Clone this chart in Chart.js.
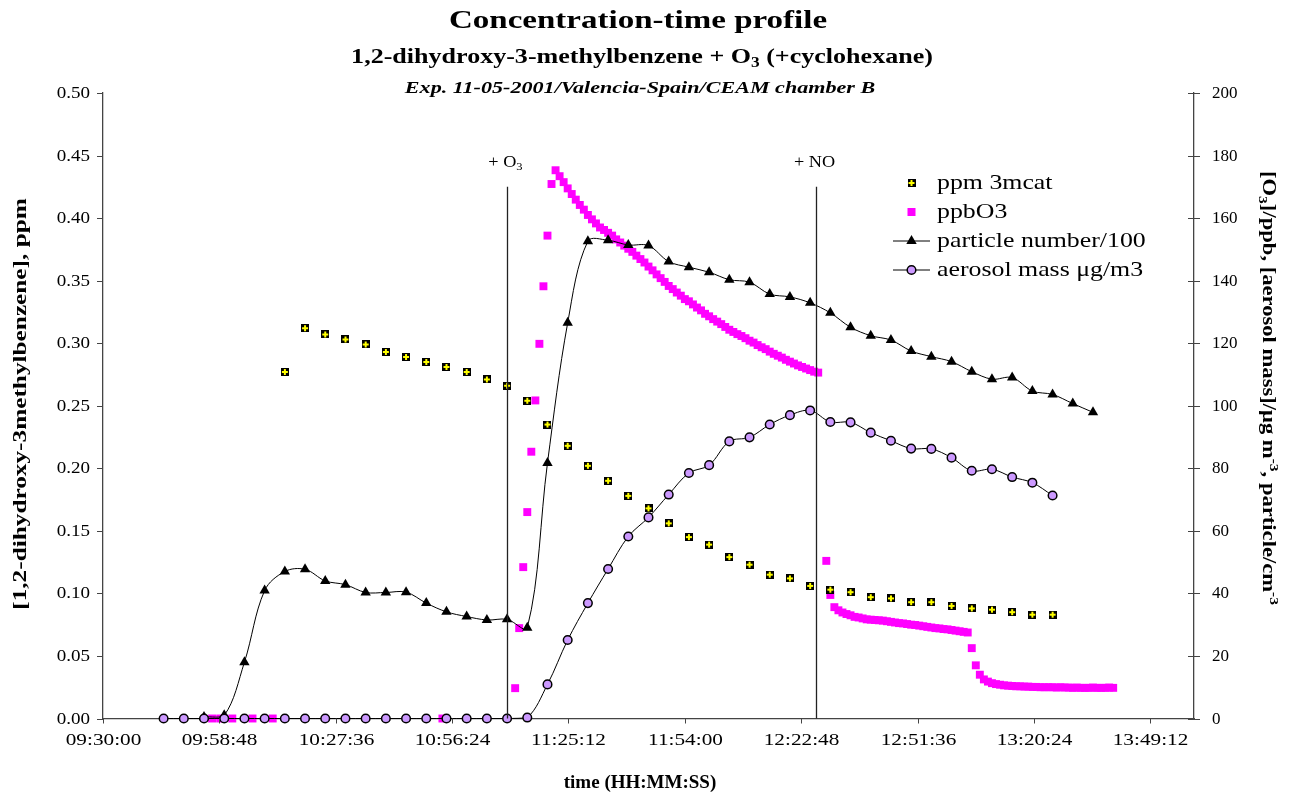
<!DOCTYPE html>
<html>
<head>
<meta charset="utf-8">
<title>Concentration-time profile</title>
<script src="https://cdn.jsdelivr.net/npm/chart.js@4.4.1/dist/chart.umd.min.js"></script>
<style>
  html, body { margin: 0; padding: 0; background: #fff; }
  #wrap { width: 1291px; height: 793px; position: relative; }
</style>
</head>
<body>
<div id="wrap"><canvas id="profileChart"></canvas></div>
<script>
// time axis: Excel style, 0.02 day steps from 09:30:00
const xTickLabels = ["09:30:00", "09:58:48", "10:27:36", "10:56:24", "11:25:12",
  "11:54:00", "12:22:48", "12:51:36", "13:20:24", "13:49:12"];
const xRange = ["09:30:00", "14:00:00"];

// ppm 3mcat (left axis)
const mcatTimes = ["10:15", "10:20", "10:25", "10:30", "10:35", "10:40", "10:45", "10:50", "10:55", "11:00",
  "11:05", "11:10", "11:15", "11:20", "11:25", "11:30", "11:35", "11:40", "11:45", "11:50",
  "11:55", "12:00", "12:05", "12:10", "12:15", "12:20", "12:25", "12:30", "12:35", "12:40",
  "12:45", "12:50", "12:55", "13:00", "13:05", "13:10", "13:15", "13:20", "13:25"];
const mcatPpm = [0.277, 0.312, 0.307, 0.303, 0.299, 0.293, 0.289, 0.285, 0.281, 0.277,
  0.271, 0.266, 0.254, 0.235, 0.218, 0.202, 0.190, 0.178, 0.168, 0.156,
  0.145, 0.139, 0.129, 0.123, 0.115, 0.112, 0.106, 0.103, 0.101, 0.097,
  0.096, 0.093, 0.093, 0.090, 0.088, 0.087, 0.085, 0.083, 0.083];

// particle number/100 (right axis)
const particleTimes = ["09:55", "10:00", "10:05", "10:10", "10:15", "10:20", "10:25", "10:30", "10:35", "10:40",
  "10:45", "10:50", "10:55", "11:00", "11:05", "11:10", "11:15", "11:20", "11:25", "11:30",
  "11:35", "11:40", "11:45", "11:50", "11:55", "12:00", "12:05", "12:10", "12:15", "12:20",
  "12:25", "12:30", "12:35", "12:40", "12:45", "12:50", "12:55", "13:00", "13:05", "13:10",
  "13:15", "13:20", "13:25", "13:30", "13:35"];
const particleNum = [0.5, 1.0, 18.0, 40.9, 47.0, 47.7, 44.0, 42.8, 40.3, 40.3,
  40.4, 36.9, 34.1, 32.6, 31.5, 31.7, 29.0, 81.7, 126.5, 152.6,
  152.9, 151.4, 151.2, 146.1, 144.3, 142.7, 140.3, 139.5, 135.7, 134.8,
  132.9, 129.7, 125.1, 122.4, 121.0, 117.5, 115.7, 114.1, 110.9, 108.5,
  109.0, 104.7, 103.6, 100.7, 97.9];

// aerosol mass ug/m3 (right axis)
const aerosolTimes = ["09:45", "09:50", "09:55", "10:00", "10:05", "10:10", "10:15", "10:20", "10:25", "10:30",
  "10:35", "10:40", "10:45", "10:50", "10:55", "11:00", "11:05", "11:10", "11:15", "11:20",
  "11:25", "11:30", "11:35", "11:40", "11:45", "11:50", "11:55", "12:00", "12:05", "12:10",
  "12:15", "12:20", "12:25", "12:30", "12:35", "12:40", "12:45", "12:50", "12:55", "13:00",
  "13:05", "13:10", "13:15", "13:20", "13:25"];
const aerosolMass = [0, 0, 0, 0, 0, 0, 0, 0, 0, 0,
  0, 0, 0, 0, 0, 0, 0, 0, 0.3, 10.9,
  25.1, 36.9, 47.8, 58.2, 64.3, 71.6, 78.5, 81.0, 88.6, 89.9,
  94.0, 97.0, 98.5, 94.8, 94.7, 91.4, 88.8, 86.3, 86.2, 83.4,
  79.2, 79.7, 77.2, 75.4, 71.3];

// ppbO3 (right axis)
const o3Times = ["09:57", "09:59", "10:02", "10:07", "10:12", "10:54",
  "11:12", "11:13", "11:14", "11:15", "11:16", "11:17", "11:18", "11:19", "11:20", "11:21",
  "11:22", "11:23", "11:24", "11:25", "11:26", "11:27", "11:28", "11:29", "11:30", "11:31",
  "11:32", "11:33", "11:34", "11:35", "11:36", "11:37", "11:38", "11:39", "11:40", "11:41",
  "11:42", "11:43", "11:44", "11:45", "11:46", "11:47", "11:48", "11:49", "11:50", "11:51",
  "11:52", "11:53", "11:54", "11:55", "11:56", "11:57", "11:58", "11:59", "12:00", "12:01",
  "12:02", "12:03", "12:04", "12:05", "12:06", "12:07", "12:08", "12:09", "12:10", "12:11",
  "12:12", "12:13", "12:14", "12:15", "12:16", "12:17", "12:18", "12:19", "12:20", "12:21",
  "12:22", "12:23", "12:24", "12:25", "12:26", "12:27",
  "12:29", "12:30", "12:31", "12:32", "12:33", "12:34", "12:35", "12:36", "12:37", "12:38",
  "12:39", "12:40", "12:41", "12:42", "12:43", "12:44", "12:45", "12:46", "12:47", "12:48",
  "12:49", "12:50", "12:51", "12:52", "12:53", "12:54", "12:55", "12:56", "12:57", "12:58",
  "12:59", "13:00", "13:01", "13:02", "13:03", "13:04", "13:05", "13:06", "13:07", "13:08",
  "13:09", "13:10", "13:11", "13:12", "13:13", "13:14", "13:15", "13:16", "13:17", "13:18",
  "13:19", "13:20", "13:21", "13:22", "13:23", "13:24", "13:25", "13:26", "13:27", "13:28",
  "13:29", "13:30", "13:31", "13:32", "13:33", "13:34", "13:35", "13:36", "13:37", "13:38",
  "13:39", "13:40"];
const o3Ppb = [0, 0, 0, 0, 0, 0,
  9.7, 28.9, 48.4, 66.0, 85.3, 101.7, 119.8, 138.2, 154.4, 170.9,
  175.3, 173.4, 171.5, 169.5, 167.7, 165.9, 164.2, 162.7, 161.0, 159.6,
  158.3, 157.0, 156.2, 155.3, 154.4, 153.2, 152.2, 151.2, 150.2, 149.2,
  148.0, 146.9, 145.8, 144.5, 143.3, 142.0, 140.8, 139.6, 138.3, 137.3,
  136.2, 135.2, 134.1, 133.4, 132.4, 131.4, 130.5, 129.4, 128.6, 127.7,
  126.9, 126.1, 125.2, 124.3, 123.6, 122.9, 122.3, 121.6, 120.8, 120.2,
  119.4, 118.7, 118.1, 117.3, 116.6, 116.0, 115.4, 114.7, 114.1, 113.5,
  112.9, 112.4, 111.9, 111.4, 110.9, 110.6,
  50.4, 39.5, 35.6, 34.6, 33.9, 33.4, 33.0, 32.5, 32.3, 32.0,
  31.7, 31.6, 31.5, 31.4, 31.3, 31.1, 30.9, 30.7, 30.5, 30.4,
  30.2, 30.0, 29.9, 29.7, 29.5, 29.3, 29.1, 28.9, 28.8, 28.6,
  28.5, 28.3, 28.1, 27.9, 27.7, 27.5, 22.5, 17.0, 14.0, 12.5,
  11.8, 11.3, 11.0, 10.8, 10.6, 10.5, 10.4, 10.3, 10.3, 10.2,
  10.2, 10.1, 10.1, 10.0, 10.0, 10.0, 10.0, 9.9, 10.0, 9.9,
  9.9, 9.8, 9.9, 9.8, 9.8, 9.8, 9.9, 9.8, 9.8, 9.8,
  9.9, 9.8];

// additions marked with vertical lines
const eventTimes = ["11:10", "12:26:30"];
const eventLabels = [["+ O", "3"], ["+ NO", ""]];

const FONT = "'Liberation Serif', 'Times New Roman', serif";
Chart.defaults.font.family = FONT;
Chart.defaults.color = "#000";

function toMinutes(t) {
  const p = t.split(":").map(Number);
  return p[0] * 60 + p[1] + (p[2] || 0) / 60;
}

function fmtTime(min) {
  const sec = Math.round(min * 60);
  const pad = (n) => String(n).padStart(2, "0");
  return `${pad(Math.floor(sec / 3600))}:${pad(Math.floor(sec / 60) % 60)}:${pad(sec % 60)}`;
}

function toPoints(times, vals) {
  return times.map((t, i) => ({ x: toMinutes(t), y: vals[i] }));
}

// black square with a yellow cross, like the excel marker
function makeMcatMarker() {
  const c = document.createElement("canvas");
  c.width = 8;
  c.height = 8;
  const g = c.getContext("2d");
  g.fillStyle = "#000";
  g.fillRect(0, 0, 8, 8);
  g.fillStyle = "#ffff00";
  g.fillRect(1, 3, 6, 2);
  g.fillRect(3, 1, 2, 6);
  return c;
}
const mcatMarker = makeMcatMarker();

// excel text comes out wider than our fonts, so text is drawn with a stretch (sx)
// parts: [[text, "sub"|"sup"|""], ...]
function drawRich(ctx, parts, x, y, o) {
  const size = o.size;
  const style = o.style || "normal";
  const sx = o.sx || 1;
  const align = o.align || "center";
  const small = Math.round(size * 0.68);
  const fontFor = (mode) => `${style} ${mode ? small : size}px ${FONT}`;
  ctx.save();
  ctx.translate(x, y);
  if (o.rotate) ctx.rotate(o.rotate);
  ctx.scale(sx, 1);
  let total = 0;
  parts.forEach(([txt, mode]) => {
    ctx.font = fontFor(mode);
    total += ctx.measureText(txt).width;
  });
  let cx = align === "center" ? -total / 2 : align === "right" ? -total : 0;
  ctx.textAlign = "left";
  ctx.textBaseline = "middle";
  parts.forEach(([txt, mode]) => {
    ctx.font = fontFor(mode);
    let dy = 0;
    if (mode === "sub") dy = size * 0.28;
    if (mode === "sup") dy = -size * 0.3;
    ctx.fillText(txt, cx, dy);
    cx += ctx.measureText(txt).width;
  });
  ctx.restore();
}

function drawMarker(ctx, kind, x, y) {
  ctx.save();
  if (kind === "mcat") {
    ctx.drawImage(mcatMarker, x - 4, y - 4);
  } else if (kind === "o3") {
    ctx.fillStyle = "#ff00ff";
    ctx.fillRect(x - 4, y - 4, 8, 8);
  } else if (kind === "particle") {
    ctx.fillStyle = "#000";
    ctx.beginPath();
    ctx.moveTo(x, y - 6);
    ctx.lineTo(x + 5.2, y + 3);
    ctx.lineTo(x - 5.2, y + 3);
    ctx.closePath();
    ctx.fill();
  } else {
    ctx.fillStyle = "#cc99ff";
    ctx.strokeStyle = "#000";
    ctx.lineWidth = 1.5;
    ctx.beginPath();
    ctx.arc(x, y, 4.3, 0, Math.PI * 2);
    ctx.fill();
    ctx.stroke();
  }
  ctx.restore();
}

// titles, axis titles and tick labels
const textPlugin = {
  id: "texts",
  afterDraw(chart) {
    const ctx = chart.ctx;
    const { x, yL, yR } = chart.scales;
    ctx.save();
    ctx.fillStyle = "#000";
    drawRich(ctx, [["Concentration-time profile", ""]], 638, 21, { size: 26, style: "bold", sx: 1.27 });
    drawRich(ctx, [["1,2-dihydroxy-3-methylbenzene + O", ""], ["3", "sub"], [" (+cyclohexane)", ""]],
      642, 58, { size: 21, style: "bold", sx: 1.24 });
    drawRich(ctx, [["Exp. 11-05-2001/Valencia-Spain/CEAM chamber B", ""]], 640, 89,
      { size: 17, style: "italic bold", sx: 1.3 });

    drawRich(ctx, [["time (HH:MM:SS)", ""]], 640, 783, { size: 19, style: "bold" });
    drawRich(ctx, [["[1,2-dihydroxy-3methylbenzene], ppm", ""]], 21, 404,
      { size: 19, style: "bold", sx: 1.33, rotate: -Math.PI / 2 });
    drawRich(ctx, [["[O", ""], ["3", "sub"], ["]/ppb, [aerosol mass]/\u03bcg m", ""], ["-3", "sup"],
      [", particle/cm", ""], ["-3", "sup"]], 1268, 388,
      { size: 19, style: "bold", sx: 1.19, rotate: Math.PI / 2 });

    // tick marks and labels
    ctx.strokeStyle = "#444";
    ctx.lineWidth = 1;
    x.ticks.forEach((tk) => {
      const px = Math.round(x.getPixelForValue(tk.value)) + 0.5;
      ctx.beginPath();
      ctx.moveTo(px, x.top);
      ctx.lineTo(px, x.top + 5);
      ctx.stroke();
      drawRich(ctx, [[fmtTime(tk.value), ""]], px, 741, { size: 17, sx: 1.25 });
    });
    yL.ticks.forEach((tk) => {
      const py = Math.round(yL.getPixelForValue(tk.value)) + 0.5;
      ctx.beginPath();
      ctx.moveTo(yL.right - 6, py);
      ctx.lineTo(yL.right, py);
      ctx.stroke();
      drawRich(ctx, [[tk.value.toFixed(2), ""]], 90, py, { size: 17, sx: 1.12, align: "right" });
    });
    yR.ticks.forEach((tk) => {
      const py = Math.round(yR.getPixelForValue(tk.value)) + 0.5;
      ctx.beginPath();
      ctx.moveTo(yR.left - 6, py);
      ctx.lineTo(yR.left + 6, py);
      ctx.stroke();
      drawRich(ctx, [[String(tk.value), ""]], 1212, py, { size: 17, align: "left" });
    });
    ctx.restore();
  },
};

const legendPlugin = {
  id: "sideLegend",
  afterDraw(chart) {
    const ctx = chart.ctx;
    const rows = [
      { kind: "mcat", line: false },
      { kind: "o3", line: false },
      { kind: "particle", line: true },
      { kind: "aerosol", line: true },
    ];
    ctx.save();
    rows.forEach((r, i) => {
      const y = 183 + i * 29;
      if (r.line) {
        ctx.strokeStyle = "#000";
        ctx.lineWidth = 1;
        ctx.beginPath();
        ctx.moveTo(893, y);
        ctx.lineTo(930, y);
        ctx.stroke();
      }
      drawMarker(ctx, r.kind, 911.5, y);
      ctx.fillStyle = "#000";
      drawRich(ctx, [[chart.data.datasets[i].label, ""]], 937, y, { size: 21, sx: 1.23, align: "left" });
    });
    ctx.restore();
  },
};

const eventsPlugin = {
  id: "events",
  afterDatasetsDraw(chart) {
    const ctx = chart.ctx;
    const xs = chart.scales.x;
    const yr = chart.scales.yR;
    ctx.save();
    eventTimes.forEach((t, i) => {
      const px = Math.round(xs.getPixelForValue(toMinutes(t))) + 0.5;
      const top = yr.getPixelForValue(170);
      ctx.strokeStyle = "#222";
      ctx.lineWidth = 1.3;
      ctx.beginPath();
      ctx.moveTo(px, top);
      ctx.lineTo(px, yr.getPixelForValue(0));
      ctx.stroke();
      ctx.fillStyle = "#000";
      const [main, sub] = eventLabels[i];
      drawRich(ctx, sub ? [[main, ""], [sub, "sub"]] : [[main, ""]], px - 2, top - 24, { size: 16, sx: 1.14 });
    });
    ctx.restore();
  },
};

const xTickValues = xTickLabels.map(toMinutes);
const axisBorder = { display: true, color: "#444", width: 1.3 };

new Chart(document.getElementById("profileChart"), {
  type: "scatter",
  data: {
    datasets: [
      {
        label: "ppm 3mcat",
        data: toPoints(mcatTimes, mcatPpm),
        yAxisID: "yL",
        showLine: false,
        pointStyle: mcatMarker,
        order: 2,
        clip: false,
      },
      {
        label: "ppbO3",
        data: toPoints(o3Times, o3Ppb),
        yAxisID: "yR",
        showLine: false,
        pointStyle: "rect",
        pointRadius: 5.6,
        pointHoverRadius: 5.6,
        backgroundColor: "#ff00ff",
        borderWidth: 0,
        order: 3,
        clip: false,
      },
      {
        label: "particle number/100",
        data: toPoints(particleTimes, particleNum),
        yAxisID: "yR",
        showLine: true,
        borderColor: "#000",
        borderWidth: 1,
        tension: 0.35,
        pointStyle: "triangle",
        pointRadius: 6,
        backgroundColor: "#000",
        pointBorderWidth: 0,
        order: 1,
        clip: false,
      },
      {
        label: "aerosol mass \u03bcg/m3",
        data: toPoints(aerosolTimes, aerosolMass),
        yAxisID: "yR",
        showLine: true,
        borderColor: "#000",
        borderWidth: 1,
        tension: 0.35,
        pointStyle: "circle",
        pointRadius: 4.3,
        pointBackgroundColor: "#cc99ff",
        pointBorderColor: "#000",
        pointBorderWidth: 1.5,
        order: 0,
        clip: false,
      },
    ],
  },
  options: {
    responsive: true,
    maintainAspectRatio: false,
    animation: false,
    layout: { padding: { top: 93, left: 0, right: 0, bottom: 0 } },
    plugins: {
      legend: { display: false },
      tooltip: { enabled: false },
    },
    scales: {
      x: {
        type: "linear",
        min: toMinutes(xRange[0]),
        max: toMinutes(xRange[1]),
        afterBuildTicks: (s) => {
          s.ticks = xTickValues.map((v) => ({ value: v }));
        },
        afterFit: (s) => {
          s.height = 74.5;
        },
        ticks: { display: false },
        grid: { display: false },
        border: axisBorder,
      },
      yL: {
        position: "left",
        min: 0,
        max: 0.5,
        afterFit: (s) => {
          s.width = 103;
        },
        ticks: { display: false, stepSize: 0.05 },
        grid: { display: false },
        border: axisBorder,
      },
      yR: {
        position: "right",
        min: 0,
        max: 200,
        afterFit: (s) => {
          s.width = 97;
        },
        ticks: { display: false, stepSize: 20 },
        grid: { display: false },
        border: axisBorder,
      },
    },
  },
  plugins: [textPlugin, legendPlugin, eventsPlugin],
});
</script>
</body>
</html>
